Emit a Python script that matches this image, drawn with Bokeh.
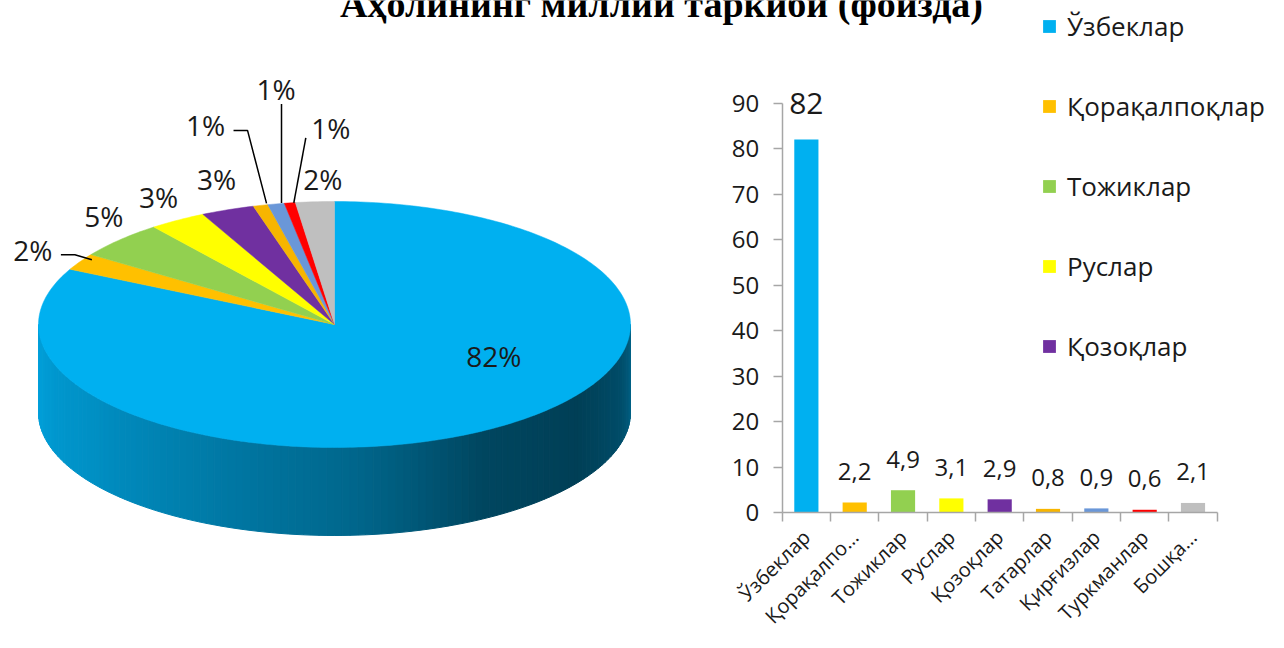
import math
from bokeh.plotting import figure
from bokeh.models import Range1d, LinearAxis, FixedTicker, Legend, LegendItem, ColumnDataSource
from bokeh.core.properties import value
from bokeh.embed import file_html
from bokeh.resources import INLINE

# ---------------- data ----------------
title_text = "Аҳолининг миллий таркиби (фоизда)"
categories = ["Ўзбеклар", "Қорақалпоқлар", "Тожиклар", "Руслар", "Қозоқлар",
              "Татарлар", "Қирғизлар", "Туркманлар", "Бошқалар"]
tick_labels = ["Ўзбеклар", "Қорақалпо…", "Тожиклар", "Руслар", "Қозоқлар",
               "Татарлар", "Қирғизлар", "Туркманлар", "Бошқа…"]
values = [82, 2.2, 4.9, 3.1, 2.9, 0.8, 0.9, 0.6, 2.1]
colors = ["#00B0F0", "#FFC000", "#92D050", "#FFFF00", "#7030A0",
          "#F7B500", "#6A97D8", "#FF0000", "#BFBFBF"]
y_ticks = [0, 10, 20, 30, 40, 50, 60, 70, 80, 90]
legend_count = 5

# ---------------- layout constants ----------------
W, H = 1268, 632
FONT = "Open Sans"
TXT = "#1a1a1a"
AX = "#A6A6A6"

# pie geometry (picture pixel coordinates)
CX, CY, RX, RY, DEPTH = 334, 324, 296, 123, 88
# label offsets from slice anchor (layout only)
label_offsets = [(4, -73), (-47, -12), (-16, -24), (-19, -23), (-11, -31),
                 (-55, -80), (0, -115), (41, -75), (8, -23)]
leaders = {1: [(-19, -7), (-5, -7), (12, -2)],
           5: [(-27, -75), (-13, -75), (6, -2)],
           6: [(5.5, -100), (5.5, -1)],
           7: [(16, -65), (4, 0)]}

# bar geometry: x of first category boundary, pixels per category, zero line, px per unit
BX0, PITCH, BY0, PPU = 781.7, 48.33, 512.0, 409.3 / 90

p = figure(width=W, height=H,
           x_range=Range1d(0, W), y_range=Range1d(H, 0),
           x_axis_type=None, y_axis_type=None,
           output_backend="svg", toolbar_location=None,
           min_border=0, outline_line_color=None,
           background_fill_color="white", border_fill_color="white")

p.extra_x_ranges = {"bx": Range1d((0 - BX0) / PITCH, (W - BX0) / PITCH)}
p.extra_y_ranges = {"by": Range1d((BY0 - H) / PPU, (BY0 - 0) / PPU)}

# ---------------- pie ----------------
total = sum(values)
def pt(theta_deg):
    t = math.radians(theta_deg)
    return CX + RX * math.cos(t), CY - RY * math.sin(t)

bounds = []
c = 0.0
for v in values:
    a0 = 90 - 360 * c
    c += v / total
    a1 = 90 - 360 * c
    bounds.append((a0, a1))

def color_at(theta):
    th = theta % 360
    for i, (a0, a1) in enumerate(bounds):
        lo, hi = a1 % 360, a0 % 360
        if lo <= hi:
            if lo <= th <= hi:
                return colors[i]
        else:
            if th >= lo or th <= hi:
                return colors[i]
    return colors[0]

def shade(hexcol, f):
    r, g, b = int(hexcol[1:3], 16), int(hexcol[3:5], 16), int(hexcol[5:7], 16)
    return "#%02x%02x%02x" % (int(r * f), int(g * f), int(b * f))

shade_stops = [(180, 0.92), (215, 0.82), (250, 0.68), (275, 0.58), (300, 0.40),
               (325, 0.36), (345, 0.44), (360, 0.56)]
def shade_f(th):
    for (t0, f0), (t1, f1) in zip(shade_stops[:-1], shade_stops[1:]):
        if t0 <= th <= t1:
            return f0 + (f1 - f0) * (th - t0) / (t1 - t0)
    return shade_stops[-1][1]

side_xs, side_ys, side_cols = [], [], []
step = 1.5
th = 180.0
while th < 360:
    t2 = min(th + step, 360)
    x1, y1 = pt(th)
    x2, y2 = pt(t2)
    side_xs.append([x1, x2, x2, x1])
    side_ys.append([y1, y2, y2 + DEPTH, y1 + DEPTH])
    side_cols.append(shade(color_at((th + t2) / 2), shade_f((th + t2) / 2)))
    th = t2
p.patches(side_xs, side_ys, fill_color=side_cols, line_color=side_cols, line_width=1)

top_xs, top_ys = [], []
for (a0, a1) in bounds:
    n = max(3, int(abs(a0 - a1) / 1.0))
    xs, ys = [CX], [CY]
    for k in range(n + 1):
        x, y = pt(a0 + (a1 - a0) * k / n)
        xs.append(x)
        ys.append(y)
    top_xs.append(xs)
    top_ys.append(ys)
p.patches(top_xs, top_ys, fill_color=colors, line_color=colors, line_width=0.5)

# pie labels
lab_x, lab_y, lab_t = [], [], []
for i, ((a0, a1), v) in enumerate(zip(bounds, values)):
    ax_, ay_ = pt((a0 + a1) / 2)
    dx, dy = label_offsets[i]
    lab_x.append(ax_ + dx)
    lab_y.append(ay_ + dy)
    lab_t.append("%d%%" % round(100 * v / total))
    if i in leaders:
        p.line([ax_ + ox for ox, oy in leaders[i]], [ay_ + oy for ox, oy in leaders[i]],
               line_color="black", line_width=1.5)
p.text(lab_x, lab_y, text=lab_t, text_align="center", text_baseline="middle",
       text_font=value(FONT), text_font_size="28px", text_color=TXT)

# ---------------- bars ----------------
centers = [i + 0.5 for i in range(len(categories))]
big = [v == max(values) for v in values]
src = ColumnDataSource(dict(x=centers, top=values, color=colors, name=categories,
                            lab=[("%g" % v).replace(".", ",") for v in values],
                            size=["30px" if b else "24px" for b in big],
                            yoff=[-36 if b else -31 for b in big]))
bars = p.vbar(x="x", top="top", bottom=0, width=0.5, fill_color="color", line_color=None,
              source=src, x_range_name="bx", y_range_name="by")
p.text(x="x", y="top", text="lab", source=src, x_range_name="bx", y_range_name="by",
       text_align="center", text_baseline="middle", y_offset="yoff",
       text_font=value(FONT), text_font_size="size", text_color=TXT)

yax = LinearAxis(x_range_name="bx", y_range_name="by", fixed_location=0, bounds=(0, 90),
                 ticker=FixedTicker(ticks=y_ticks, minor_ticks=[]),
                 axis_line_color=AX, axis_line_width=1.5,
                 major_tick_line_color=AX, major_tick_line_width=1.5,
                 major_tick_out=9, major_tick_in=0, minor_tick_line_color=None,
                 major_label_standoff=14, major_label_text_font=FONT,
                 major_label_text_font_size="24px", major_label_text_color=TXT)
p.add_layout(yax, "left")

xax = LinearAxis(x_range_name="bx", y_range_name="by", fixed_location=0,
                 bounds=(0, len(categories)),
                 ticker=FixedTicker(ticks=centers, minor_ticks=list(range(len(categories) + 1))),
                 major_label_overrides={c_: t for c_, t in zip(centers, tick_labels)},
                 axis_line_color=AX, axis_line_width=1.5,
                 major_tick_line_color=None,
                 minor_tick_line_color=AX, minor_tick_line_width=1.5,
                 minor_tick_out=9, minor_tick_in=0,
                 major_label_orientation=math.pi / 4, major_label_standoff=12,
                 major_label_text_font=FONT, major_label_text_font_size="20px",
                 major_label_text_color=TXT)
p.add_layout(xax, "below")

# ---------------- legend ----------------
legend = Legend(items=[LegendItem(label=categories[i], renderers=[bars], index=i)
                       for i in range(legend_count)],
                location=(1041, H - 366), orientation="vertical",
                glyph_width=16, glyph_height=16, label_standoff=10, label_height=40,
                label_text_font=FONT, label_text_font_size="26px", label_text_color=TXT,
                spacing=40, padding=0, margin=0,
                border_line_color=None, background_fill_alpha=0)
p.add_layout(legend)

# ---------------- title ----------------
p.text([661], [3], text=[title_text], text_align="center", text_baseline="alphabetic",
       text_font=value("Liberation Serif"), text_font_style="bold",
       text_font_size="38px", text_color="black")

open("out.html", "w").write(file_html(p, INLINE))
